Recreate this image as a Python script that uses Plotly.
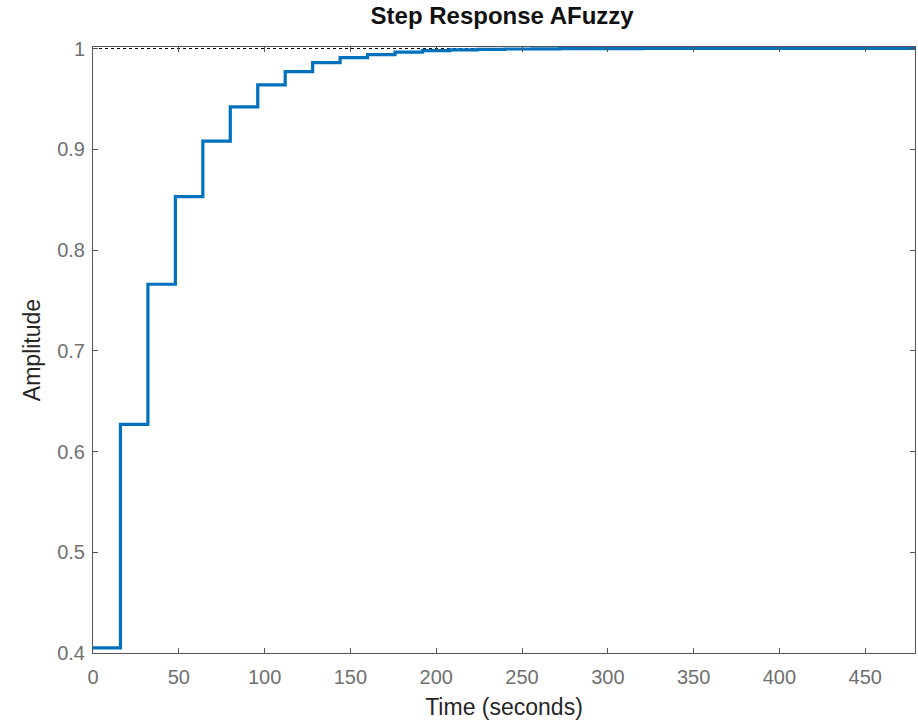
import plotly.graph_objects as go

# Data
time_s = [0, 16, 32, 48, 64, 80, 96, 112, 128, 144, 160, 176, 192, 208, 224,
          240, 256, 272, 288, 304, 320, 336, 352, 368, 384, 400, 416, 432,
          448, 464, 480]
amplitude = [0.405, 0.627, 0.766, 0.853, 0.908, 0.942, 0.964, 0.977, 0.986,
             0.991, 0.994, 0.9965, 0.998, 0.9986, 0.9991, 0.9995, 0.9997,
             0.9998, 0.9999, 0.9999, 1.0, 1.0, 1.0, 1.0, 1.0, 1.0, 1.0, 1.0,
             1.0, 1.0, 1.0]
steady_x = [0, 480]
steady_y = [1.0, 1.0]

x_ticks = [0, 50, 100, 150, 200, 250, 300, 350, 400, 450]
y_ticks = [0.4, 0.5, 0.6, 0.7, 0.8, 0.9, 1.0]
y_tick_text = ["0.4", "0.5", "0.6", "0.7", "0.8", "0.9", "1"]

FONT = "Liberation Sans, Arial"

fig = go.Figure()
fig.add_trace(go.Scatter(x=steady_x, y=steady_y, mode="lines",
                         line=dict(color="black", width=1, dash="dot"),
                         hoverinfo="skip", showlegend=False))
fig.add_trace(go.Scatter(x=time_s, y=amplitude, mode="lines",
                         line=dict(color="#0072BD", width=3.2, shape="hv"),
                         showlegend=False))

axis_common = dict(showline=True, linecolor="#555555", linewidth=1,
                   mirror="ticks", ticks="inside", ticklen=5,
                   tickcolor="#555555", showgrid=False, zeroline=False,
                   tickfont=dict(family=FONT, size=20, color="#707070"))

fig.update_xaxes(range=[0, 479], tickvals=x_ticks, ticklabelstandoff=6,
                 title=dict(text="Time (seconds)", standoff=11,
                            font=dict(family=FONT, size=23, color="#262626")),
                 **axis_common)
fig.update_yaxes(range=[0.4, 1.0015], tickvals=y_ticks, ticktext=y_tick_text,
                 ticklabelstandoff=3,
                 title=dict(text="Amplitude", standoff=10,
                            font=dict(family=FONT, size=23, color="#262626")),
                 **axis_common)

fig.update_layout(
    width=918, height=721,
    margin=dict(l=93, r=3, t=47, b=68),
    paper_bgcolor="white", plot_bgcolor="white",
    title=dict(text="<b>Step Response AFuzzy</b>", x=0.547, xanchor="center",
               y=0.978, yanchor="middle",
               font=dict(family=FONT, size=24, color="#111111")),
)

fig.write_html("out.html")
